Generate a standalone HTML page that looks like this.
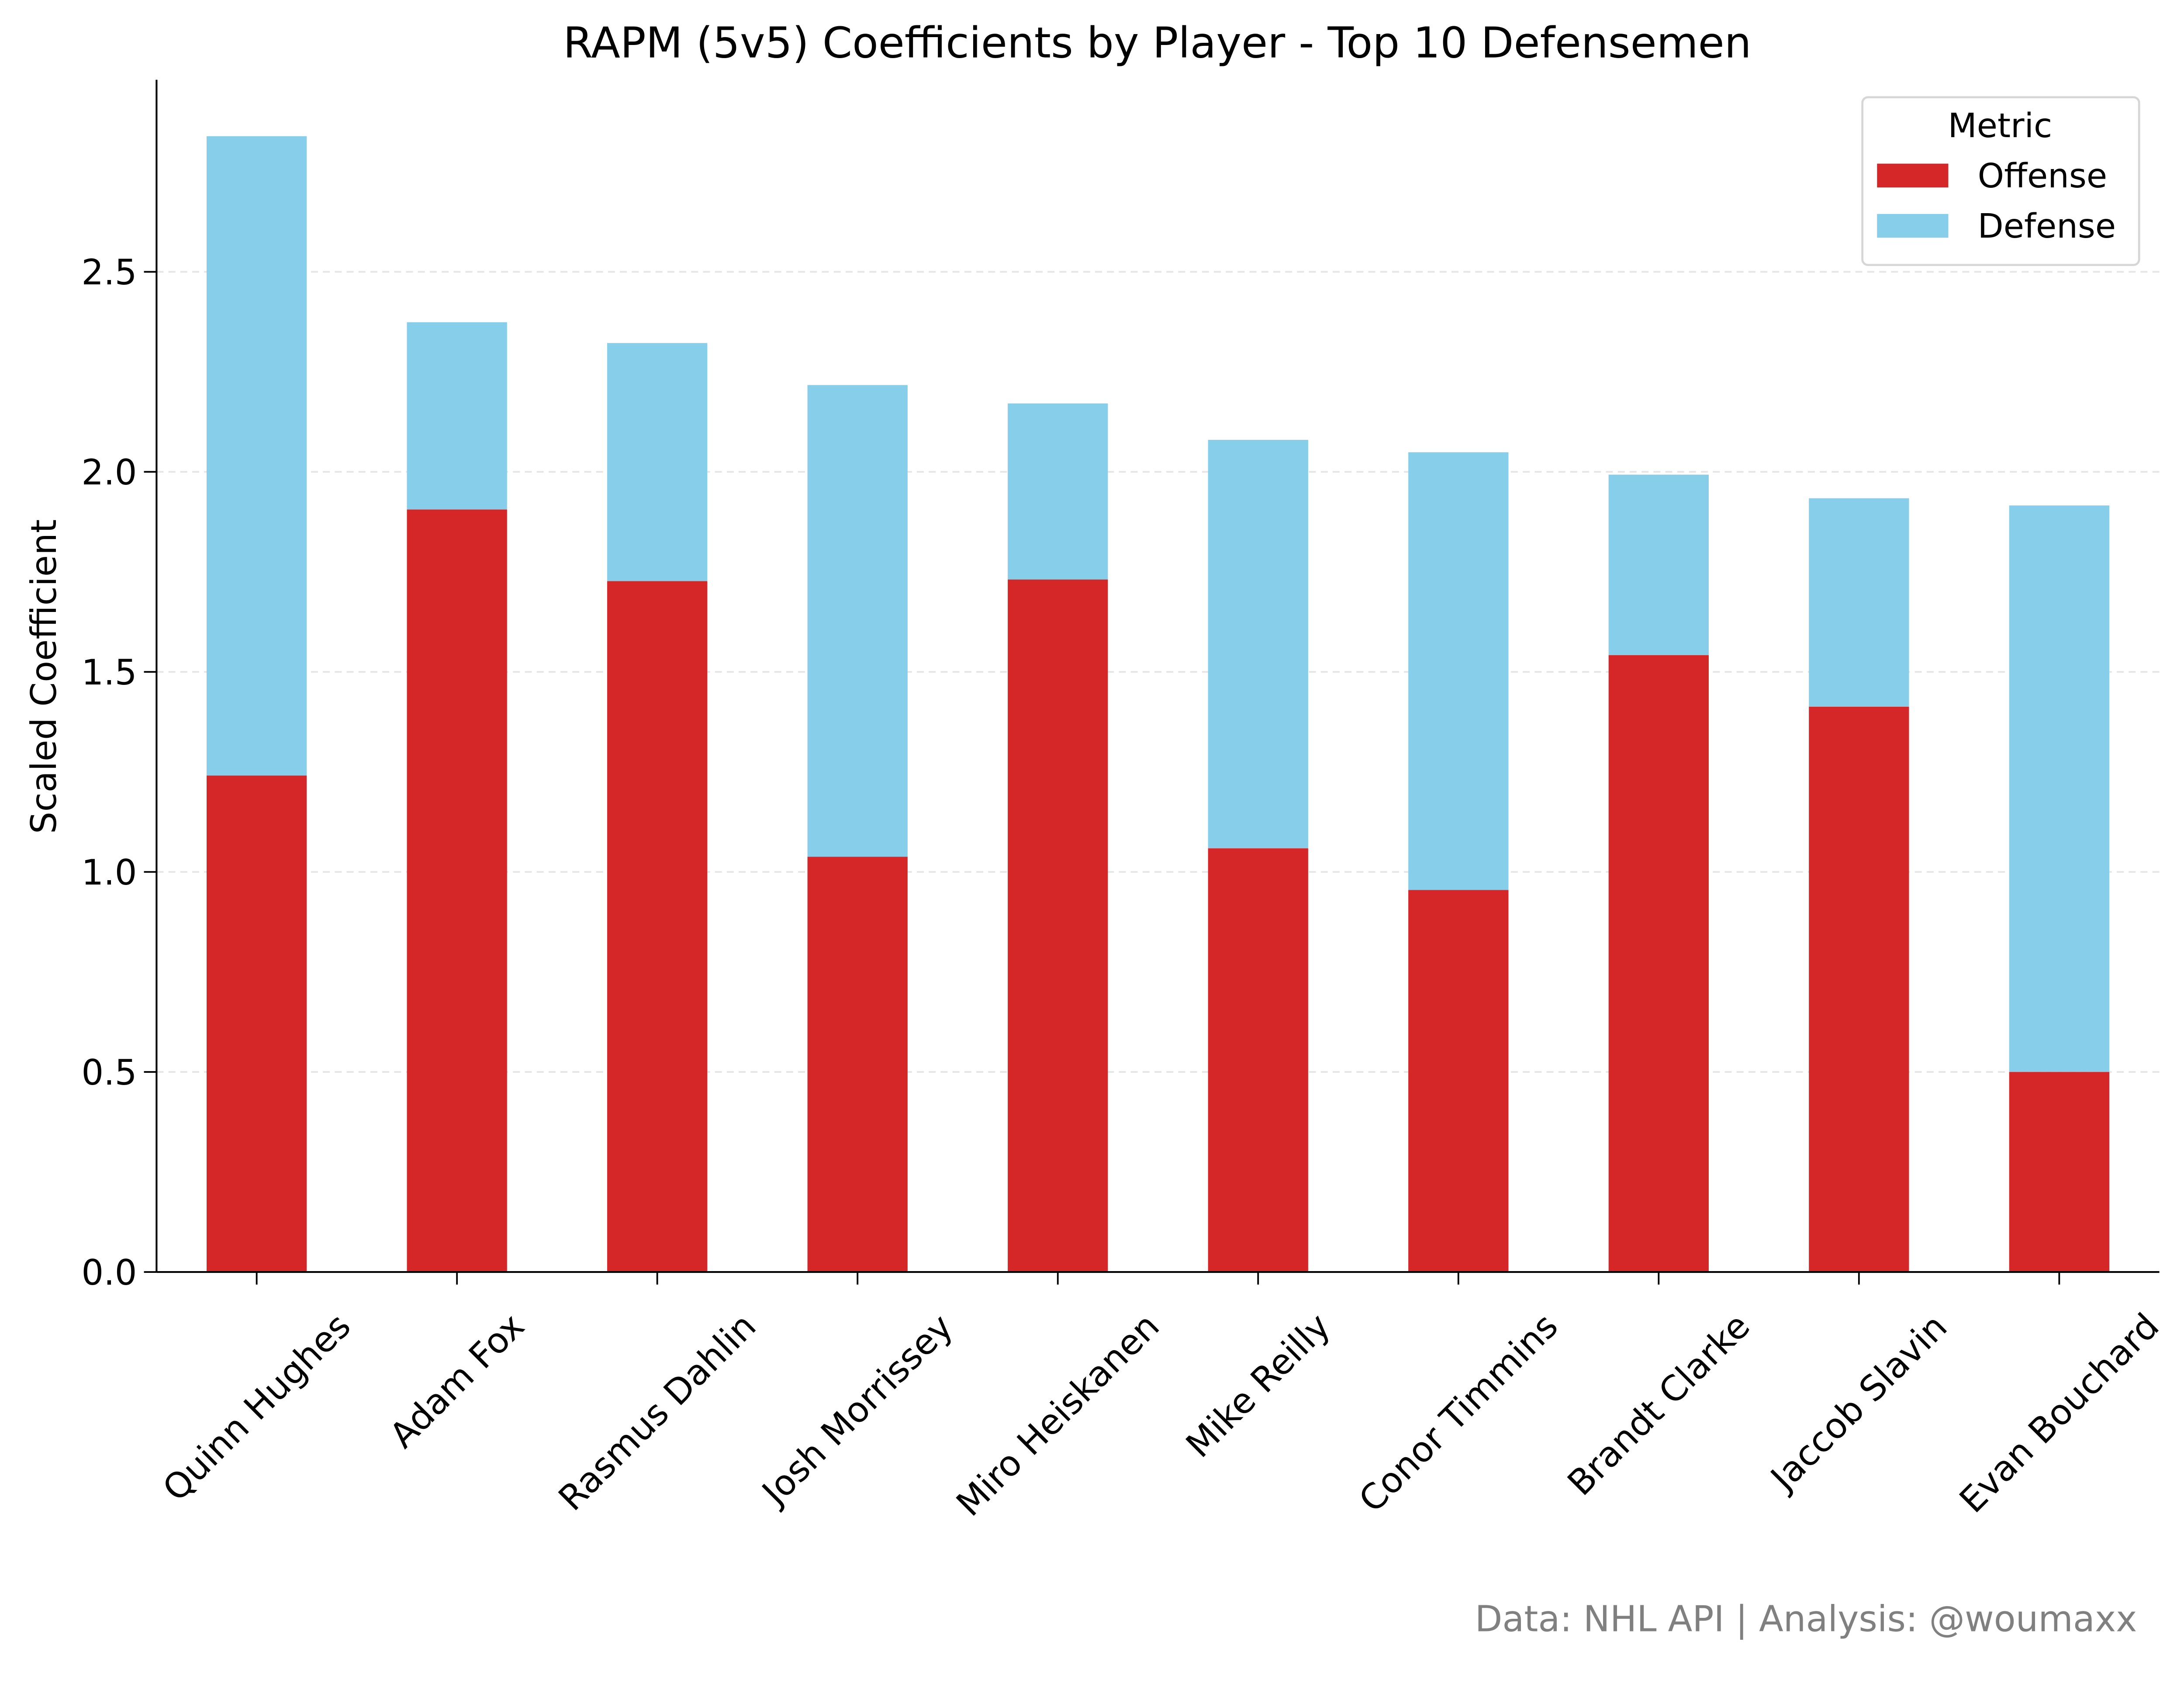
<!DOCTYPE html>
<html><head><meta charset="utf-8"><style>
html,body{margin:0;padding:0;background:#fff;}
svg{display:block;font-family:"DejaVu Sans","Liberation Sans",sans-serif;}
</style></head><body>
<svg id="chart" width="5094" height="3869" viewBox="0 0 1592 1209" xmlns="http://www.w3.org/2000/svg">
<rect width="1592" height="1209" fill="#fff"/>
<text x="828" y="41" font-size="30.5" text-anchor="middle">RAPM (5v5) Coefficients by Player - Top 10 Defensemen</text>
<g id="grid"></g>
<g id="bars"></g>
<g id="axes"></g>
<text transform="translate(40,484) rotate(-90)" font-size="25" text-anchor="middle">Scaled Coefficient</text>
<g>
<rect x="1332.5" y="69.5" width="198" height="120" rx="4" fill="#fff" stroke="#d6d6d6" stroke-width="1.5"/>
<text x="1431" y="98" font-size="24" text-anchor="middle">Metric</text>
<rect x="1343" y="117" width="51" height="17" fill="#d62728"/>
<text x="1415" y="134" font-size="24">Offense</text>
<rect x="1343" y="153" width="51" height="17" fill="#87ceeb"/>
<text x="1415" y="170" font-size="24">Defense</text>
</g>
<text x="1529" y="1167" font-size="25.5" fill="#808080" text-anchor="end">Data: NHL API | Analysis: @woumaxx</text>
</svg>
<script>
const players = ["Quinn Hughes","Adam Fox","Rasmus Dahlin","Josh Morrissey","Miro Heiskanen","Mike Reilly","Conor Timmins","Brandt Clarke","Jaccob Slavin","Evan Bouchard"];
const offense = [1.241,1.906,1.727,1.038,1.731,1.059,0.955,1.542,1.413,0.500];
const defense = [1.598,0.468,0.595,1.179,0.440,1.021,1.094,0.451,0.521,1.416];
const yTicks = [0.0,0.5,1.0,1.5,2.0,2.5];
const yTickLabels = ["0.0","0.5","1.0","1.5","2.0","2.5"];

const NS="http://www.w3.org/2000/svg";
const L=112,R=1545,B=910,T=57,yMax=2.98;
const n=players.length, step=(R-L)/n, bw=step*0.5;
const x=i=>L+step*(i+0.5);
const y=v=>B-(v/yMax)*(B-T);
function mk(tag,attrs,parent,txt){const e=document.createElementNS(NS,tag);for(const k in attrs)e.setAttribute(k,attrs[k]);if(txt!==undefined)e.textContent=txt;parent.appendChild(e);return e;}
const grid=document.getElementById('grid'),bars=document.getElementById('bars'),axes=document.getElementById('axes');
yTicks.forEach((t,i)=>{
  if(t>0){const g=mk('line',{x1:L,x2:R,y1:y(t),y2:y(t),stroke:'#e5e5e5','stroke-width':1.2,'stroke-dasharray':'5,3.5'},grid);
  
  }
  const tk=mk('line',{x1:L-9,x2:L,y1:y(t),y2:y(t),stroke:'#000','stroke-width':1.2},axes);
  
  
  const lb=mk('text',{x:L-14,y:y(t)+9,'font-size':25,'text-anchor':'end'},axes,yTickLabels[i]);
  
  
});
players.forEach((p,i)=>{
  const o=mk('rect',{x:x(i)-bw/2,y:y(offense[i]),width:bw,height:y(0)-y(offense[i]),fill:'#d62728'},bars);
  
  
  const tot=offense[i]+defense[i];
  const d=mk('rect',{x:x(i)-bw/2,y:y(tot),width:bw,height:y(offense[i])-y(tot),fill:'#87ceeb'},bars);
  
  
  const tk=mk('line',{x1:x(i),x2:x(i),y1:B,y2:B+9,stroke:'#000','stroke-width':1.2},axes);
  
  
  const lb=mk('text',{'font-size':25,'text-anchor':'middle','dominant-baseline':'central'},axes,p);
  
  
  const bb=lb.getBBox();
  const half=(bb.width+bb.height)*0.7071/2;
  lb.setAttribute('transform',`translate(${x(i)},${934+half}) rotate(-45)`);
});
const ya=mk('line',{x1:L,x2:L,y1:T,y2:B,stroke:'#000','stroke-width':1.3},axes);


const xa=mk('line',{x1:L,x2:R,y1:B,y2:B,stroke:'#000','stroke-width':1.3},axes);


</script>
</body></html>
